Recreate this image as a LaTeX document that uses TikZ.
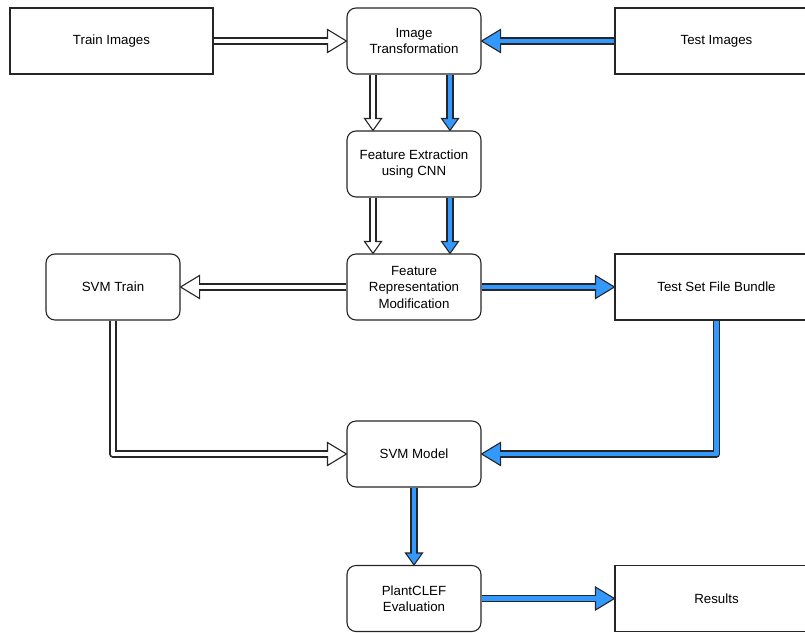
\documentclass[tikz,border=0pt]{standalone}
\usepackage{fontspec}
\setmainfont{Liberation Sans}
\usetikzlibrary{calc}
\definecolor{flexblue}{RGB}{51,153,255}
\pgfdeclarelayer{bg}
\pgfsetlayers{bg,main}
\tikzset{
  base/.style={draw=black!85, line width=1.1pt, fill=white, inner sep=0pt,
    minimum height=66pt, align=center, font=\fontsize{13.3}{16.5}\selectfont},
  sq/.style={base, minimum width=203pt},
  rnd/.style={base, minimum width=134pt, rounded corners=9pt},
  shaftout/.style={draw=black!85, line width=7.2pt, line join=round},
  shaftin/.style={line width=4.8pt, line join=round},
  headst/.style={draw=black!85, line width=1.1pt, line join=miter}
}
\newcommand\fa[4]{%
  \draw[shaftout] #2;
  \filldraw[headst, fill=#1] #3;
  \draw[shaftin, draw=#1] #2 #4;
}
\begin{document}
\begin{tikzpicture}[x=1pt, y=-1pt]
\useasboundingbox (0,0) rectangle (805,632);
\clip (0,0) rectangle (805,632);
\node[sq] (train) at (111.5,41) {Train Images};
\node[rnd] (img) at (414,41) {Image\\Transformation};
\node[sq] (test) at (716.5,41) {Test Images};
\node[rnd] (feat) at (414,164) {Feature Extraction\\using CNN};
\node[rnd] (rep) at (414,287) {Feature\\Representation\\Modification};
\node[rnd] (svmtrain) at (113,287) {SVM Train};
\node[sq] (bundle) at (716.5,287) {Test Set File Bundle};
\node[rnd] (svm) at (414,454) {SVM Model};
\node[rnd] (plant) at (414,598.5) {PlantCLEF\\Evaluation};
\node[sq] (results) at (716.5,598.5) {Results};

\begin{pgfonlayer}{bg}
% train -> img
\fa{white}{(train.east) -- ($(img.west)+(-19,0)$)}
  {(img.west) -- ++(-19,-11.5) -- ++(0,23) -- cycle}{-- ++(1.5,0)}
% test -> img
\fa{flexblue}{(test.west) -- ($(img.east)+(19,0)$)}
  {(img.east) -- ++(19,-11.5) -- ++(0,23) -- cycle}{-- ++(-1.5,0)}
% img -> feat
\fa{white}{($(img.south)+(-41,0)$) -- ($(feat.north)+(-41,-12)$)}
  {($(feat.north)+(-41,0)$) -- ++(-8.5,-12) -- ++(17,0) -- cycle}{-- ++(0,1.5)}
\fa{flexblue}{($(img.south)+(36,0)$) -- ($(feat.north)+(36,-12)$)}
  {($(feat.north)+(36,0)$) -- ++(-8.5,-12) -- ++(17,0) -- cycle}{-- ++(0,1.5)}
% feat -> rep
\fa{white}{($(feat.south)+(-41,0)$) -- ($(rep.north)+(-41,-12)$)}
  {($(rep.north)+(-41,0)$) -- ++(-8.5,-12) -- ++(17,0) -- cycle}{-- ++(0,1.5)}
\fa{flexblue}{($(feat.south)+(36,0)$) -- ($(rep.north)+(36,-12)$)}
  {($(rep.north)+(36,0)$) -- ++(-8.5,-12) -- ++(17,0) -- cycle}{-- ++(0,1.5)}
% rep -> svmtrain
\fa{white}{(rep.west) -- ($(svmtrain.east)+(19,0)$)}
  {(svmtrain.east) -- ++(19,-11.5) -- ++(0,23) -- cycle}{-- ++(-1.5,0)}
% rep -> bundle
\fa{flexblue}{(rep.east) -- ($(bundle.west)+(-19,0)$)}
  {(bundle.west) -- ++(-19,-11.5) -- ++(0,23) -- cycle}{-- ++(1.5,0)}
% svmtrain -> svm
\fa{white}{(svmtrain.south) |- ($(svm.west)+(-19,0)$)}
  {(svm.west) -- ++(-19,-11.5) -- ++(0,23) -- cycle}{-- ++(1.5,0)}
% bundle -> svm
\fa{flexblue}{(bundle.south) |- ($(svm.east)+(19,0)$)}
  {(svm.east) -- ++(19,-11.5) -- ++(0,23) -- cycle}{-- ++(-1.5,0)}
% svm -> plant
\fa{flexblue}{(svm.south) -- ($(plant.north)+(0,-12)$)}
  {(plant.north) -- ++(-8.5,-12) -- ++(17,0) -- cycle}{-- ++(0,1.5)}
% plant -> results
\fa{flexblue}{(plant.east) -- ($(results.west)+(-19,0)$)}
  {(results.west) -- ++(-19,-11.5) -- ++(0,23) -- cycle}{-- ++(1.5,0)}
\end{pgfonlayer}
\end{tikzpicture}
\end{document}
